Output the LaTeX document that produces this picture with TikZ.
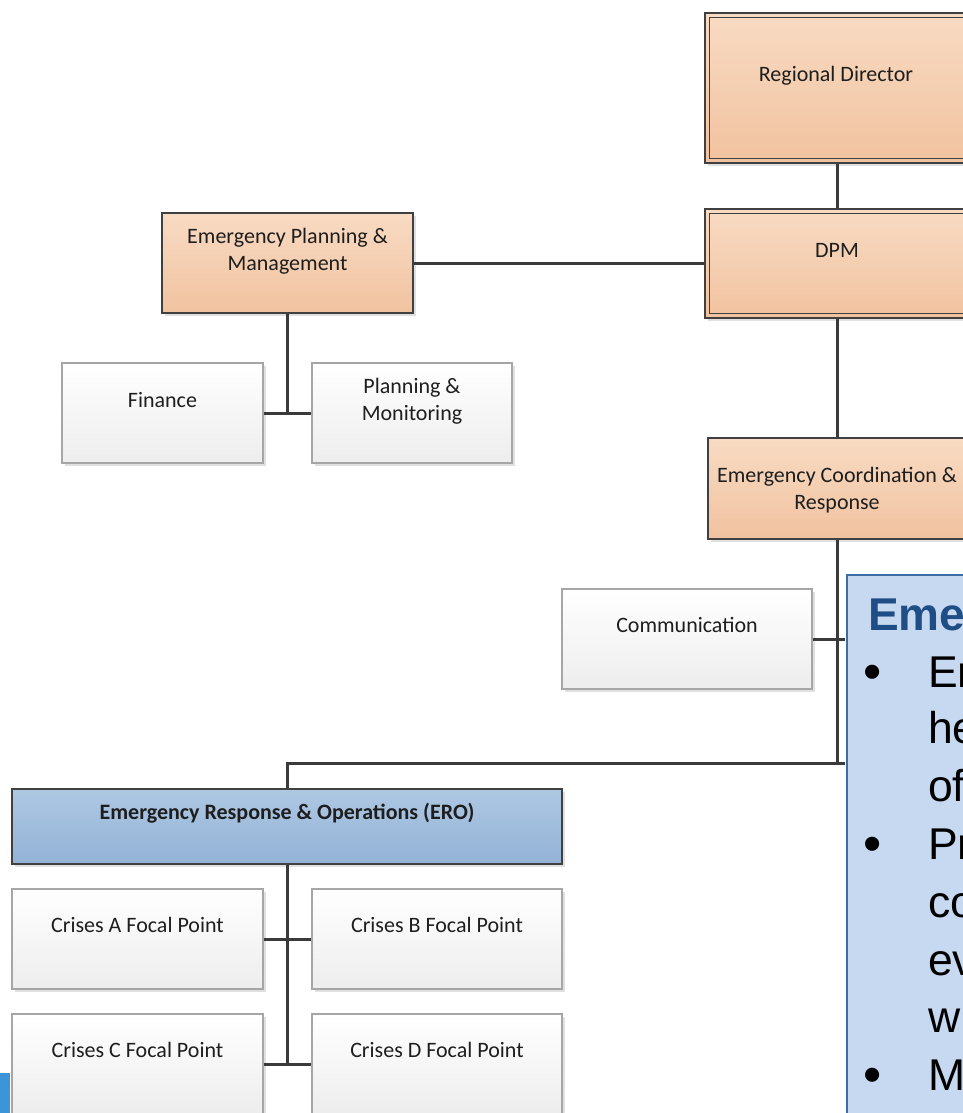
\documentclass[tikz,border=0pt]{standalone}
\usepackage{fontspec}
\setmainfont{Carlito}
\newfontfamily\arialf{Liberation Sans}
\usetikzlibrary{shadows}
\definecolor{peachT}{HTML}{F8DBC3}
\definecolor{peachB}{HTML}{F1C29F}
\definecolor{bdark}{HTML}{404040}
\definecolor{cdark}{HTML}{3A3A3A}
\definecolor{gborder}{HTML}{A6A6A6}
\definecolor{wbot}{HTML}{EDEDED}
\definecolor{eroT}{HTML}{AEC8E3}
\definecolor{eroB}{HTML}{93B2D6}
\definecolor{tdark}{HTML}{1E1E1E}
\definecolor{notefill}{HTML}{C6D9F1}
\definecolor{noteborder}{HTML}{3D6DA6}
\definecolor{titleblue}{HTML}{1F4E87}
\definecolor{stripblue}{HTML}{3D95D9}
\begin{document}
\begin{tikzpicture}[x=1pt,y=-1pt,
  conn/.style={draw=cdark, line width=3pt},
  shad/.style={drop shadow={shadow xshift=3pt,shadow yshift=-3pt,opacity=.12,fill=black}},
  peachbox/.style={draw=bdark, line width=2pt, top color=peachT, bottom color=peachB, inner sep=0pt, shad},
  whitebox/.style={draw=gborder, line width=1.2pt, top color=white, bottom color=wbot, inner sep=0pt, shad},
  erobox/.style={draw=bdark, line width=2pt, top color=eroT, bottom color=eroB, inner sep=0pt, shad},
  lbl/.style={font=\fontsize{22}{27}\selectfont, text=tdark, align=center, inner sep=0pt},
  notetxt/.style={font=\arialf\fontsize{44.5}{57}\selectfont, text=black, anchor=base west, inner sep=0pt},
  bul/.style={font=\arialf\fontsize{52}{57}\selectfont, text=black, anchor=base, inner sep=0pt},
]
\useasboundingbox (0,0) rectangle (963,1113);
\clip (0,0) rectangle (963,1113);

% boxes
\node[peachbox, minimum width=264pt, minimum height=150pt] (rd) at (837,88) {};
\draw[draw=bdark, line width=1.8pt] ([xshift=5.5pt,yshift=-5.5pt]rd.north west) rectangle ([xshift=-5.5pt,yshift=5.5pt]rd.south east);
\node[peachbox, minimum width=264pt, minimum height=109pt] (dpm) at (837,263.5) {};
\draw[draw=bdark, line width=1.8pt] ([xshift=5.5pt,yshift=-5.5pt]dpm.north west) rectangle ([xshift=-5.5pt,yshift=5.5pt]dpm.south east);
\node[peachbox, minimum width=251pt, minimum height=100pt] (epm) at (287.5,263) {};
\node[whitebox, minimum width=201pt, minimum height=100pt] (fin) at (162.5,413) {};
\node[whitebox, minimum width=200pt, minimum height=100pt] (pm) at (412,413) {};
\node[peachbox, minimum width=258pt, minimum height=101pt] (ecr) at (837,488.5) {};
\node[whitebox, minimum width=250pt, minimum height=100pt] (comm) at (687,639) {};
\node[erobox, minimum width=550pt, minimum height=75pt] (ero) at (287,826.5) {};
\node[whitebox, minimum width=251pt, minimum height=100pt] (ca) at (137.5,939) {};
\node[whitebox, minimum width=250pt, minimum height=100pt] (cb) at (437,939) {};
\node[whitebox, minimum width=251pt, minimum height=100pt] (cc) at (137.5,1064) {};
\node[whitebox, minimum width=250pt, minimum height=100pt] (cd) at (437,1064) {};

% labels
\node[lbl, anchor=base] (rdt) at (836,82) {Regional Director};
\node[lbl, anchor=base] (dpmt) at (837,257) {DPM};
\node[lbl] (epmt) at (287.5,251.5) {Emergency Planning \&\\Management};
\node[lbl, anchor=base] (fint) at (162.5,407) {Finance};
\node[lbl] (pmt) at (412,401.5) {Planning \&\\Monitoring};
\node[lbl] (ecrt) at (837,490) {Emergency Coordination \&\\Response};
\node[lbl, anchor=base] (commt) at (687,632) {Communication};
\node[lbl, anchor=base, font=\bfseries\fontsize{22}{27}\selectfont] (erot) at (287,819) {Emergency Response \& Operations (ERO)};
\node[lbl, anchor=base] (cat) at (137.5,932) {Crises A Focal Point};
\node[lbl, anchor=base] (cbt) at (437,932) {Crises B Focal Point};
\node[lbl, anchor=base] (cct) at (137.5,1057) {Crises C Focal Point};
\node[lbl, anchor=base] (cdt) at (437,1057) {Crises D Focal Point};

% note box
\node[draw=noteborder, line width=1.5pt, fill=notefill, minimum width=600pt, minimum height=700pt, anchor=north west, inner sep=0pt] (note) at (846,574) {};

% connectors
\coordinate (j1) at (837,763);
\draw[conn] (rd.south) -- (dpm.north);
\draw[conn] (epm.east) -- (epm.east -| dpm.west);
\draw[conn] (fin.east) -- (pm.west);
\draw[conn] (epm.south) -- (epm.south |- fin.east);
\draw[conn] (dpm.south) -- (ecr.north);
\draw[conn] (ecr.south) -- (j1);
\draw[conn, shorten >=0.8pt] (comm.east) -- (comm.east -| note.west);
\draw[conn, line join=miter] (ero.north) -- (ero.north |- j1) -- ([xshift=-0.8pt]j1 -| note.west);
\draw[conn] (ero.south) -- (ero.south |- cc.east);
\draw[conn] (ca.east) -- (cb.west);
\draw[conn] (cc.east) -- (cd.west);

% note text
\node[notetxt, font=\arialf\bfseries\fontsize{46}{55}\selectfont, text=titleblue] (nt0) at (868,630) {Eme};
\node[bul] (b1) at (873,689) {•};
\node[notetxt] (nt1) at (928,687) {En};
\node[notetxt] (nt2) at (928,743) {he};
\node[notetxt] (nt3) at (928,801) {of};
\node[bul] (b2) at (873,861) {•};
\node[notetxt] (nt4) at (928,859) {Pr};
\node[notetxt] (nt5) at (928,917) {co};
\node[notetxt] (nt6) at (928,975) {ev};
\node[notetxt] (nt7) at (928,1032) {w};
\node[bul] (b3) at (873,1092) {•};
\node[notetxt] (nt8) at (928,1090) {M};

% blue strip
\fill[stripblue] (0,1073) rectangle (10,1113);
\end{tikzpicture}
\end{document}
